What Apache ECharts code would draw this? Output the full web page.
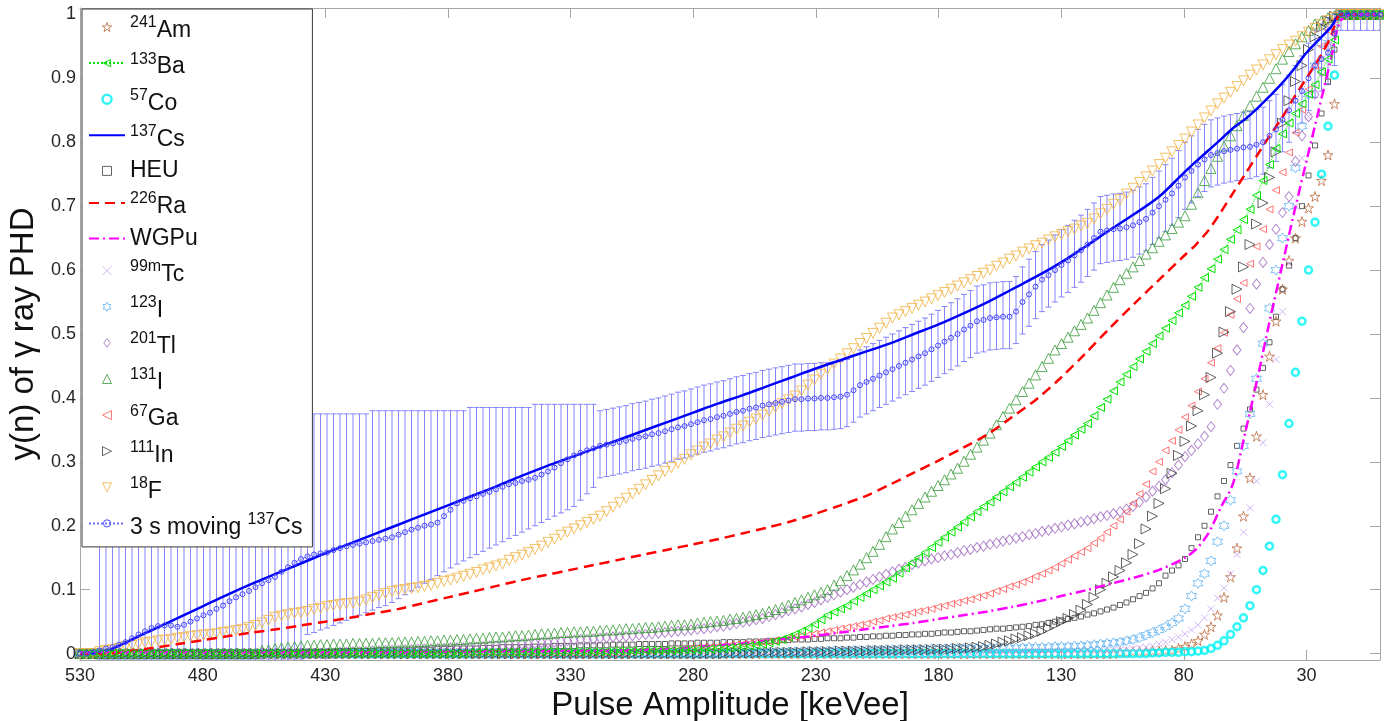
<!DOCTYPE html>
<html><head><meta charset="utf-8">
<script src="https://cdn.jsdelivr.net/npm/echarts@6/dist/echarts.min.js"></script>
<style>html,body{margin:0;padding:0;background:#fff}#c{width:1384px;height:721px}</style>
</head><body><div id="c"></div>
<script>
// ---------- axes ----------
const xTicks = [530,480,430,380,330,280,230,180,130,80,30];
const yTicks = [0,0.1,0.2,0.3,0.4,0.5,0.6,0.7,0.8,0.9,1];
// channel grid of the pulse-height histograms (keVee), 201 channels from 530 down to 0
const channelStep = 2.65;
const pulse = Array.from({length: 201}, (_, k) => +(530 - channelStep * k).toFixed(2));
// sparse x for the pure line curves
const lineX = [530,520,510,500,490,480,470,460,450,440,430,420,410,400,390,380,370,360,350,340,330,320,310,300,290,280,270,260,250,240,230,220,210,200,190,180,170,160,150,140,130,120,110,100,90,80,75,70,65,60,55,50,45,40,35,30,25,20,16,10,0];

// ---------- series values ----------
const am = [
0,0,0,0,0,0,0,0,0,0, 0,0,0,0,0,0,0,0,0,0, 0,0,0,0,0,0,0,0,0,0, 0,0,0,0,0,0,0,0,0,0,
0,0,0,0,0,0,0,0,0,0, 0,0,0,0,0,0,0,0,0,0, 0,0,0,0,0,0,0,0,0,0, 0,0,0,0,0,0,0,0,0,0,
0,0,0,0,0,0,0,0,0,0, 0,0,0,0,0,0,0,0,0,0, 0,0,0,0,0,0,0,0,0,0, 0,0,0,0,0,0,0,0,0,0,
0,0,0,0,0,0,0,0,0,0, 0,0,0,0,0,0,0,0,0,0, 0,0,0,0,0,0,0,0,0,0, 0,0,0,0,0,0,0,0,0,0,
0.002,0.002,0.003,0.003,0.003,0.004,0.004,0.005,0.005,0.008,
0.011,0.015,0.02,0.03,0.042,0.06,0.088,0.12,0.165,0.215,
0.275,0.34,0.405,0.465,0.52,0.57,0.615,0.65,0.676,0.697,
0.715,0.74,0.78,0.86,1,1,1,1,1,1, 1];
const ba = [
0,0,0,0,0,0,0,0,0,0, 0,0,0,0,0,0,0,0,0,0, 0,0,0,0,0,0,0,0,0,0, 0,0,0,0,0,0,0,0,0,0,
0,0,0,0,0,0,0,0,0,0, 0,0,0,0,0,0,0,0,0,0,
0.002,0.002,0.002,0.002,0.002,0.002,0.002,0.002,0.002,0.002,
0.003,0.003,0.003,0.003,0.003,0.003,0.003,0.003,0.003,0.003,
0.003,0.003,0.004,0.004,0.004,0.004,0.004,0.005,0.005,0.005,
0.005,0.005,0.005,0.006,0.006,0.006,0.007,0.007,0.008,0.008,
0.009,0.01,0.011,0.012,0.013,0.015,0.017,0.019,0.022,0.026,
0.03,0.035,0.04,0.046,0.053,0.06,0.065,0.07,0.075,0.082,
0.088,0.094,0.1,0.106,0.112,0.118,0.126,0.134,0.142,0.15,
0.158,0.166,0.174,0.182,0.19,0.198,0.206,0.214,0.222,0.23,
0.237,0.245,0.253,0.261,0.268,0.276,0.284,0.292,0.3,0.307,
0.315,0.324,0.333,0.342,0.351,0.36,0.372,0.385,0.398,0.411,
0.425,0.437,0.449,0.461,0.473,0.485,0.497,0.509,0.521,0.533,
0.545,0.559,0.573,0.588,0.602,0.617,0.632,0.648,0.663,0.679,
0.695,0.717,0.74,0.765,0.79,0.813,0.83,0.845,0.86,0.875,
0.89,0.91,0.93,0.96,1,1,1,1,1,1, 1];
const co = [
0,0,0,0,0,0,0,0,0,0, 0,0,0,0,0,0,0,0,0,0, 0,0,0,0,0,0,0,0,0,0, 0,0,0,0,0,0,0,0,0,0,
0,0,0,0,0,0,0,0,0,0, 0,0,0,0,0,0,0,0,0,0, 0,0,0,0,0,0,0,0,0,0, 0,0,0,0,0,0,0,0,0,0,
0,0,0,0,0,0,0,0,0,0, 0,0,0,0,0,0,0,0,0,0, 0,0,0,0,0,0,0,0,0,0, 0,0,0,0,0,0,0,0,0,0,
0,0,0,0,0,0,0,0,0,0, 0,0,0,0,0,0,0,0,0,0, 0,0,0,0,0,0,0,0,0,0, 0,0,0,0,0,0,0,0,0,0,
0,0,0,0,0,0.001,0.001,0.002,0.002,0.002,
0.003,0.003,0.004,0.005,0.008,0.013,0.02,0.03,0.042,0.056,
0.075,0.1,0.13,0.168,0.21,0.28,0.36,0.44,0.52,0.6,
0.675,0.75,0.825,0.905,1,1,1,1,1,1, 1];
const heu = [
0,0,0,0,0,0,0,0,0,0, 0,0,0,0,0,0,0,0,0,0, 0,0,0,0,0,0,0,0,0,0,
0.002,0.002,0.002,0.002,0.003,0.003,0.003,0.003,0.003,0.003,
0.004,0.004,0.004,0.004,0.004,0.004,0.005,0.005,0.005,0.005,
0.005,0.005,0.006,0.006,0.006,0.007,0.007,0.007,0.008,0.008,
0.008,0.008,0.009,0.009,0.009,0.01,0.01,0.01,0.01,0.01,
0.011,0.011,0.011,0.012,0.012,0.012,0.012,0.013,0.013,0.013,
0.013,0.013,0.014,0.014,0.014,0.014,0.015,0.015,0.015,0.015,
0.015,0.016,0.016,0.016,0.016,0.017,0.017,0.017,0.017,0.018,
0.018,0.018,0.018,0.019,0.019,0.019,0.02,0.02,0.021,0.021,
0.022,0.022,0.022,0.023,0.023,0.024,0.024,0.024,0.025,0.025,
0.026,0.026,0.027,0.027,0.028,0.028,0.029,0.029,0.03,0.03,
0.031,0.031,0.032,0.033,0.033,0.034,0.035,0.035,0.036,0.037,
0.038,0.039,0.039,0.04,0.041,0.042,0.043,0.045,0.046,0.048,
0.05,0.052,0.054,0.056,0.058,0.061,0.063,0.066,0.069,0.072,
0.076,0.08,0.085,0.09,0.095,0.102,0.11,0.122,0.13,0.138,
0.148,0.165,0.182,0.2,0.222,0.246,0.27,0.295,0.325,0.352,
0.382,0.413,0.447,0.487,0.527,0.57,0.607,0.65,0.7,0.748,
0.795,0.845,0.895,0.945,1,1,1,1,1,1, 1];
const tc = [
0,0,0,0,0,0,0,0,0,0, 0,0,0,0,0,0,0,0,0,0, 0,0,0,0,0,0,0,0,0,0, 0,0,0,0,0,0,0,0,0,0,
0,0,0,0,0,0,0,0,0,0, 0,0,0,0,0,0,0,0,0,0, 0,0,0,0,0,0,0,0,0,0, 0,0,0,0,0,0,0,0,0,0,
0,0,0,0,0,0,0,0,0,0, 0,0,0,0,0,0,0,0,0,0, 0,0,0,0,0,0,0,0,0,0, 0,0,0,0,0,0,0,0,0,0,
0,0,0,0,0,0,0,0,0,0, 0,0,0,0,0,0,0,0,0,0,
0.002,0.002,0.002,0.002,0.003,0.003,0.003,0.003,0.003,0.004,
0.004,0.004,0.004,0.004,0.005,0.005,0.005,0.005,0.005,0.006,
0.006,0.007,0.008,0.009,0.01,0.012,0.015,0.018,0.022,0.026,
0.031,0.037,0.045,0.056,0.07,0.087,0.103,0.125,0.155,0.19,
0.228,0.27,0.33,0.39,0.46,0.535,0.61,0.7,0.775,0.84,
0.89,0.93,0.96,0.985,1,1,1,1,1,1, 1];
const i123 = [
0,0,0,0,0,0,0,0,0,0, 0,0,0,0,0,0,0,0,0,0, 0,0,0,0,0,0,0,0,0,0, 0,0,0,0,0,0,0,0,0,0,
0,0,0,0,0,0,0,0,0,0, 0,0,0,0,0,0,0,0,0,0, 0,0,0,0,0,0,0,0,0,0, 0,0,0,0,0,0,0,0,0,0,
0,0,0,0,0,0,0,0,0,0, 0,0,0,0,0,0,0,0,0,0,
0.001,0.001,0.001,0.001,0.002,0.002,0.002,0.002,0.002,0.003,
0.003,0.003,0.003,0.003,0.004,0.004,0.004,0.004,0.004,0.005,
0.005,0.005,0.005,0.005,0.006,0.006,0.006,0.006,0.006,0.007,
0.007,0.007,0.007,0.007,0.008,0.008,0.008,0.008,0.008,0.008,
0.008,0.008,0.009,0.009,0.009,0.009,0.01,0.01,0.01,0.01,
0.011,0.011,0.011,0.012,0.012,0.013,0.014,0.015,0.016,0.017,
0.018,0.02,0.022,0.025,0.029,0.033,0.037,0.042,0.048,0.055,
0.07,0.09,0.11,0.125,0.145,0.175,0.2,0.24,0.285,0.325,
0.375,0.43,0.485,0.54,0.6,0.65,0.7,0.76,0.825,0.875,
0.92,0.955,0.98,0.995,1,1,1,1,1,1, 1];
const tl = [
0,0,0,0,0,0,0,0,0,0, 0,0,0,0,0,0,0,0,0,0, 0,0,0,0,0,0,0,0,0,0, 0,0,0,0,0,0,0,0,0,0,
0.002,0.002,0.003,0.003,0.003,0.004,0.004,0.005,0.005,0.005,
0.006,0.006,0.007,0.007,0.007,0.008,0.008,0.009,0.009,0.009,
0.01,0.01,0.011,0.012,0.012,0.013,0.014,0.014,0.015,0.015,
0.016,0.017,0.017,0.018,0.019,0.02,0.021,0.022,0.022,0.023,
0.024,0.025,0.026,0.026,0.027,0.028,0.029,0.03,0.031,0.032,
0.033,0.034,0.035,0.036,0.037,0.038,0.039,0.04,0.042,0.043,
0.045,0.047,0.049,0.051,0.053,0.055,0.058,0.061,0.064,0.067,
0.07,0.073,0.077,0.08,0.084,0.088,0.092,0.096,0.1,0.104,
0.108,0.112,0.116,0.12,0.124,0.128,0.132,0.135,0.139,0.142,
0.145,0.148,0.15,0.153,0.155,0.158,0.161,0.163,0.166,0.168,
0.171,0.173,0.176,0.178,0.181,0.183,0.186,0.188,0.191,0.193,
0.196,0.198,0.201,0.203,0.206,0.208,0.211,0.214,0.216,0.219,
0.222,0.226,0.23,0.237,0.245,0.254,0.262,0.272,0.283,0.295,
0.308,0.318,0.328,0.34,0.355,0.39,0.415,0.443,0.475,0.51,
0.54,0.578,0.612,0.64,0.664,0.69,0.715,0.77,0.81,0.84,
0.875,0.91,0.95,0.98,1,1,1,1,1,1, 1];
const i131 = [
0,0,0,0,0,0,0,0,0,0, 0,0,0,0,0,0,0,0,0,0,
0,0,0,0,0,0,0,0,0.005,0.006,
0.008,0.009,0.01,0.011,0.012,0.013,0.013,0.014,0.014,0.015,
0.015,0.015,0.016,0.016,0.016,0.016,0.017,0.017,0.017,0.018,
0.018,0.018,0.019,0.019,0.02,0.02,0.021,0.021,0.022,0.022,
0.023,0.024,0.024,0.025,0.026,0.026,0.027,0.028,0.028,0.029,
0.03,0.031,0.031,0.032,0.033,0.033,0.034,0.034,0.035,0.035,
0.036,0.037,0.037,0.038,0.039,0.039,0.04,0.041,0.041,0.042,
0.043,0.044,0.045,0.045,0.046,0.048,0.049,0.05,0.051,0.052,
0.054,0.055,0.057,0.059,0.061,0.063,0.066,0.069,0.072,0.076,
0.08,0.084,0.088,0.092,0.096,0.1,0.107,0.114,0.122,0.131,
0.14,0.15,0.16,0.171,0.183,0.195,0.205,0.215,0.225,0.235,
0.245,0.254,0.263,0.272,0.281,0.29,0.301,0.312,0.323,0.334,
0.345,0.358,0.371,0.384,0.397,0.41,0.423,0.436,0.449,0.462,
0.475,0.485,0.495,0.505,0.515,0.525,0.537,0.549,0.561,0.573,
0.585,0.595,0.605,0.615,0.625,0.635,0.645,0.655,0.665,0.675,
0.685,0.703,0.721,0.74,0.759,0.778,0.794,0.81,0.826,0.842,
0.857,0.872,0.886,0.9,0.915,0.93,0.942,0.954,0.965,0.975,
0.985,0.99,0.995,0.998,1,1,1,1,1,1, 1];
const ga = [
0,0,0,0,0,0,0,0,0,0, 0,0,0,0,0,0,0,0,0,0, 0,0,0,0,0,0,0,0,0,0, 0,0,0,0,0,0,0,0,0,0,
0,0,0,0,0,0,0,0,0,0, 0,0,0,0,0,0,0,0,0,0, 0,0,0,0,0,0,0,0,0,0, 0,0,0,0,0,0,0,0,0,0,
0,0,0,0,0,0.003,0.003,0.004,0.004,0.005,
0.005,0.006,0.006,0.007,0.008,0.009,0.01,0.01,0.011,0.012,
0.013,0.014,0.015,0.016,0.017,0.018,0.019,0.021,0.022,0.024,
0.026,0.028,0.029,0.031,0.033,0.035,0.037,0.039,0.041,0.043,
0.045,0.047,0.05,0.052,0.055,0.057,0.059,0.061,0.064,0.066,
0.068,0.07,0.073,0.075,0.078,0.08,0.083,0.085,0.088,0.091,
0.094,0.098,0.101,0.105,0.108,0.112,0.116,0.121,0.125,0.13,
0.135,0.141,0.147,0.153,0.159,0.165,0.173,0.181,0.19,0.2,
0.21,0.222,0.235,0.25,0.265,0.285,0.3,0.318,0.333,0.35,
0.37,0.388,0.41,0.43,0.455,0.478,0.502,0.53,0.555,0.58,
0.61,0.637,0.664,0.695,0.725,0.753,0.784,0.815,0.851,0.883,
0.919,0.95,0.975,0.992,1,1,1,1,1,1, 1];
const inn = [
0,0,0,0,0,0,0,0,0,0, 0,0,0,0,0,0,0,0,0,0, 0,0,0,0,0,0,0,0,0,0, 0,0,0,0,0,0,0,0,0,0,
0,0,0,0,0,0,0,0,0,0, 0,0,0,0,0,0,0,0,0,0, 0,0,0,0,0,0,0,0,0,0, 0,0,0,0,0,0,0,0,0,0,
0,0,0,0,0,0,0,0,0,0, 0,0,0,0,0,0,0,0,0,0,
0.001,0.001,0.001,0.001,0.001,0.002,0.002,0.002,0.002,0.002,
0.002,0.002,0.003,0.003,0.003,0.003,0.003,0.004,0.004,0.004,
0.004,0.004,0.005,0.005,0.005,0.005,0.005,0.006,0.006,0.006,
0.006,0.006,0.007,0.007,0.007,0.008,0.008,0.009,0.01,0.011,
0.013,0.015,0.018,0.02,0.023,0.025,0.028,0.031,0.035,0.04,
0.045,0.05,0.055,0.061,0.068,0.077,0.088,0.1,0.11,0.12,
0.13,0.142,0.155,0.172,0.195,0.215,0.235,0.258,0.282,0.31,
0.332,0.356,0.38,0.405,0.432,0.47,0.503,0.535,0.57,0.605,
0.64,0.672,0.705,0.745,0.785,0.83,0.865,0.895,0.92,0.945,
0.965,0.98,0.99,0.997,1,1,1,1,1,1, 1];
const f18 = [
0,0,0,0.003,0.005,0.006,0.008,0.011,0.013,0.015,
0.017,0.018,0.02,0.021,0.022,0.024,0.025,0.027,0.028,0.029,
0.03,0.031,0.033,0.034,0.036,0.038,0.041,0.044,0.048,0.052,
0.057,0.059,0.061,0.063,0.064,0.066,0.069,0.071,0.074,0.075,
0.077,0.078,0.079,0.081,0.084,0.088,0.091,0.094,0.097,0.099,
0.1,0.102,0.103,0.105,0.107,0.11,0.113,0.115,0.118,0.121,
0.124,0.127,0.131,0.134,0.137,0.14,0.146,0.15,0.154,0.158,
0.163,0.168,0.174,0.179,0.185,0.19,0.195,0.2,0.205,0.21,
0.215,0.222,0.229,0.236,0.243,0.25,0.257,0.264,0.271,0.278,
0.285,0.291,0.298,0.304,0.311,0.317,0.323,0.328,0.334,0.339,
0.345,0.351,0.356,0.362,0.367,0.373,0.379,0.385,0.391,0.397,
0.403,0.411,0.42,0.428,0.437,0.445,0.453,0.461,0.469,0.477,
0.485,0.493,0.501,0.509,0.517,0.525,0.53,0.535,0.54,0.545,
0.55,0.555,0.56,0.565,0.57,0.575,0.58,0.585,0.59,0.595,
0.6,0.606,0.611,0.617,0.622,0.628,0.633,0.638,0.642,0.647,
0.652,0.656,0.66,0.664,0.669,0.673,0.68,0.688,0.695,0.703,
0.71,0.719,0.728,0.737,0.746,0.755,0.765,0.775,0.785,0.795,
0.805,0.816,0.827,0.838,0.849,0.86,0.869,0.878,0.887,0.896,
0.905,0.913,0.921,0.929,0.937,0.945,0.952,0.958,0.965,0.972,
0.978,0.984,0.99,0.995,1,1,1,1,1,1, 1];
const mv = [
0,0,0.002,0.005,0.008,0.01,0.014,0.018,0.024,0.03,
0.035,0.04,0.043,0.044,0.044,0.042,0.045,0.05,0.055,0.06,
0.064,0.07,0.075,0.082,0.088,0.093,0.098,0.104,0.11,0.115,
0.12,0.128,0.135,0.142,0.148,0.152,0.155,0.157,0.158,0.162,
0.165,0.168,0.17,0.172,0.174,0.176,0.178,0.18,0.182,0.186,
0.19,0.194,0.197,0.2,0.202,0.205,0.215,0.225,0.235,0.239,
0.243,0.246,0.25,0.253,0.257,0.261,0.265,0.267,0.27,0.272,
0.275,0.28,0.285,0.291,0.298,0.304,0.31,0.314,0.318,0.321,
0.325,0.327,0.329,0.331,0.333,0.336,0.338,0.34,0.343,0.345,
0.348,0.351,0.354,0.356,0.359,0.362,0.365,0.367,0.37,0.372,
0.375,0.378,0.38,0.383,0.385,0.388,0.39,0.392,0.394,0.396,
0.398,0.398,0.399,0.399,0.4,0.4,0.401,0.402,0.405,0.412,
0.42,0.425,0.43,0.435,0.44,0.445,0.45,0.455,0.46,0.465,
0.47,0.476,0.482,0.488,0.494,0.5,0.507,0.513,0.52,0.522,
0.525,0.526,0.527,0.527,0.535,0.55,0.562,0.574,0.585,0.592,
0.6,0.608,0.615,0.623,0.631,0.64,0.65,0.66,0.662,0.664,
0.665,0.667,0.67,0.675,0.68,0.69,0.7,0.71,0.72,0.732,
0.745,0.755,0.765,0.773,0.78,0.783,0.786,0.788,0.79,0.792,
0.793,0.796,0.8,0.81,0.82,0.835,0.85,0.865,0.88,0.9,
0.92,0.93,0.94,0.97,1,1,1,1,1,1, 1];
const mvHigh = [
0,0,0,0.45,0.45,0.45,0.45,0.45,0.45,0.45, 0.45,0.45,0.45,0.45,0.45,0.45,0.45,0.45,0.45,0.45,
0.45,0.45,0.45,0.45,0.45,0.45,0.45,0.45,0.45,0.45, 0.45,0.45,0.45,0.45,0.45,
0.375,0.375,0.375,0.375,0.375,0.375,0.375,0.375,0.375,0.375,
0.38,0.38,0.38,0.38,0.38,0.38,0.38,0.38,0.38,0.38,0.38,0.38,0.38,0.38,0.38,
0.385,0.385,0.385,0.385,0.385,0.385,0.385,0.385,0.385,0.385,
0.39,0.39,0.39,0.39,0.39,0.39,0.39,0.39,0.39,0.39,
0.38,0.382,0.384,0.386,0.388,0.391,0.393,0.395,0.398,0.4,
0.403,0.406,0.409,0.411,0.414,0.417,0.42,0.422,0.425,0.427,
0.43,0.433,0.435,0.438,0.44,0.443,0.445,0.447,0.449,0.451,
0.453,0.453,0.454,0.454,0.455,0.455,0.456,0.457,0.46,0.467,
0.475,0.48,0.485,0.49,0.495,0.5,0.505,0.51,0.515,0.52,
0.525,0.531,0.537,0.543,0.549,0.555,0.562,0.568,0.575,0.577,
0.58,0.581,0.582,0.582,0.59,0.605,0.617,0.629,0.64,0.647,
0.655,0.663,0.67,0.678,0.686,0.695,0.705,0.715,0.717,0.719,
0.72,0.722,0.725,0.73,0.735,0.745,0.755,0.765,0.775,0.787,
0.8,0.81,0.82,0.828,0.835,0.838,0.841,0.843,0.845,0.847,
0.848,0.851,0.855,0.865,0.875,0.89,0.905,0.92,0.935,0.955,
0.975,0.985,0.995,1,1,1,1,1,1,1, 1];
const mvLow = [
0,0,0,-0.01,-0.01,-0.01,-0.01,-0.01,-0.01,-0.01, -0.01,-0.01,-0.01,-0.01,-0.01,-0.01,-0.01,-0.01,-0.01,-0.01,
-0.01,-0.01,-0.01,-0.01,-0.01,-0.01,-0.01,-0.01,-0.01,-0.01, -0.01,-0.01,-0.01,-0.01,-0.01,
0.03,0.033,0.037,0.04,0.044,0.048,0.052,0.056,0.06,0.064,0.068,0.072,0.075,
0.08,0.086,0.092,0.098,0.104,0.11,0.116,0.122,0.128,0.134,0.14,0.145,0.15,
0.155,0.16,0.165,0.17,0.175,0.18,0.185,0.19,0.195,0.2,0.205,0.21,0.215,0.22,0.225,0.23,0.24,0.25,0.26,
0.275,0.277,0.279,0.281,0.283,0.286,0.288,0.29,0.293,0.295,
0.298,0.301,0.304,0.306,0.309,0.312,0.315,0.317,0.32,0.322,
0.325,0.328,0.33,0.333,0.335,0.338,0.34,0.342,0.344,0.346,
0.348,0.348,0.349,0.349,0.35,0.35,0.351,0.352,0.355,0.362,
0.37,0.375,0.38,0.385,0.39,0.395,0.4,0.405,0.41,0.415,
0.42,0.426,0.432,0.438,0.444,0.45,0.457,0.463,0.47,0.472,
0.475,0.476,0.477,0.477,0.485,0.5,0.512,0.524,0.535,0.542,
0.55,0.558,0.565,0.573,0.581,0.59,0.6,0.61,0.612,0.614,
0.615,0.617,0.62,0.625,0.63,0.64,0.65,0.66,0.67,0.682,
0.695,0.705,0.715,0.723,0.73,0.733,0.736,0.738,0.74,0.742,
0.743,0.746,0.75,0.76,0.77,0.785,0.8,0.815,0.83,0.85,
0.87,0.88,0.89,0.92,0.975,0.975,0.975,0.975,0.975,0.975, 0.975];
const cs = [0,0.003,0.02,0.038,0.056,0.074,0.092,0.109,0.125,0.141,0.157,0.172,0.187,0.202,0.217,0.232,0.247,0.262,0.278,0.293,0.307,0.321,0.335,0.349,0.363,0.377,0.391,0.404,0.418,0.432,0.446,0.459,0.472,0.485,0.5,0.515,0.532,0.55,0.57,0.59,0.612,0.637,0.663,0.688,0.715,0.752,0.77,0.787,0.804,0.822,0.836,0.853,0.872,0.892,0.915,0.94,0.96,0.98,1,1,1];
const ra = [0,0,0.004,0.009,0.015,0.021,0.027,0.033,0.038,0.044,0.05,0.056,0.063,0.07,0.079,0.088,0.097,0.106,0.115,0.123,0.131,0.139,0.147,0.155,0.163,0.171,0.179,0.188,0.197,0.207,0.219,0.232,0.246,0.264,0.283,0.302,0.322,0.343,0.37,0.398,0.432,0.47,0.51,0.548,0.585,0.622,0.64,0.662,0.69,0.72,0.75,0.78,0.81,0.838,0.87,0.9,0.93,0.965,1,1,1];
const wg = [0.002,0.002,0.002,0.002,0.002,0.002,0.002,0.002,0.002,0.002,0.002,0.002,0.002,0.002,0.003,0.003,0.003,0.004,0.004,0.004,0.005,0.005,0.005,0.006,0.008,0.01,0.013,0.016,0.02,0.024,0.028,0.033,0.038,0.043,0.048,0.054,0.06,0.066,0.073,0.081,0.09,0.099,0.109,0.119,0.131,0.149,0.163,0.188,0.228,0.265,0.345,0.43,0.52,0.605,0.69,0.77,0.85,0.93,0.99,1,1];

// ---------- styling ----------
const FONT = '"Liberation Sans", Arial, Helvetica, sans-serif';
const GRAY = '#a6a6a6';
const HOLLOW = 'rgba(0,0,0,0)';
const SYM = {
  star: 'path://M50,0 L61.23,34.55 L97.55,34.55 L68.17,55.9 L79.39,90.45 L50,69.1 L20.61,90.45 L31.83,55.9 L2.45,34.55 L38.77,34.55 Z',
  hex: 'path://M50,0 L64.4,25 L93.3,25 L78.9,50 L93.3,75 L64.4,75 L50,100 L35.6,75 L6.7,75 L21.1,50 L6.7,25 L35.6,25 Z',
  up: 'path://M50,0 L100,100 L0,100 Z',
  down: 'path://M0,0 L100,0 L50,100 Z',
  left: 'path://M0,50 L100,0 L100,100 Z',
  right: 'path://M0,0 L100,50 L0,100 Z',
  cross: 'path://M0,0 L100,100 M100,0 L0,100',
  square: 'path://M0,0 L100,0 L100,100 L0,100 Z',
  diamond: 'path://M35,0 L70,50 L35,100 L0,50 Z'
};
const pts = vals => vals.map((v, i) => [pulse[i], v]);
const linePts = vals => vals.map((v, i) => [lineX[i], v]);
const legendStyle = {};
function markers(name, vals, symbol, size, color, bw) {
  legendStyle[name] = { color: HOLLOW, borderColor: color, borderWidth: bw || 1 };
  return { type: 'scatter', name, data: pts(vals), symbol, symbolSize: size, silent: true,
    itemStyle: { color: HOLLOW, borderColor: color, borderWidth: bw || 1 } };
}
function curve(name, vals, color, type) {
  legendStyle[name] = { opacity: 0 };
  return { type: 'line', name, data: linePts(vals), symbol: 'none', smooth: 0.3, silent: true,
    lineStyle: { color, width: 2.5, type }, itemStyle: { color } };
}

const legendLabels = {
  '241Am': '{s|241}{m|Am}', '133Ba': '{s|133}{m|Ba}', '57Co': '{s|57}{m|Co}', '137Cs': '{s|137}{m|Cs}',
  'HEU': '{p|HEU}', '226Ra': '{s|226}{m|Ra}', 'WGPu': '{p|WGPu}', '99mTc': '{s|99m}{m|Tc}',
  '123I': '{s|123}{m|I}', '201Tl': '{s|201}{m|Tl}', '131I': '{s|131}{m|I}', '67Ga': '{s|67}{m|Ga}',
  '111In': '{s|111}{m|In}', '18F': '{s|18}{m|F}', '3 s moving 137Cs': '{m|3 s moving }{s|137}{m|Cs}'
};
const legendOrder = Object.keys(legendLabels);

const series = [
  markers('241Am', am, SYM.star, 10, '#bb6c40'),
  { type: 'line', name: '133Ba', data: pts(ba), symbol: SYM.left, symbolSize: 8, showAllSymbol: true, silent: true,
    lineStyle: { color: '#00e400', width: 1, type: 'dotted' },
    itemStyle: { color: HOLLOW, borderColor: '#00e400', borderWidth: 1 } },
  markers('57Co', co, 'circle', 7, '#00f2f2', 2.5),
  curve('137Cs', cs, '#0000ff', 'solid'),
  markers('HEU', heu, SYM.square, 5, '#3c3c3c'),
  curve('226Ra', ra, '#ff0000', [10, 6]),
  curve('WGPu', wg, '#ff00ff', [10, 4, 2, 4]),
  markers('99mTc', tc, SYM.cross, 7, '#c4a4f4'),
  markers('123I', i123, SYM.hex, 10, '#5eb2f2'),
  markers('201Tl', tl, SYM.diamond, [8, 10], '#a06cc0'),
  markers('131I', i131, SYM.up, 10, '#379a37'),
  markers('67Ga', ga, SYM.left, 7, '#ff5555'),
  markers('111In', inn, SYM.right, 10, '#3a3a3a'),
  markers('18F', f18, SYM.down, 10, '#f0b040'),
  { type: 'custom', name: 'errorbars', silent: true, clip: true,
    data: pulse.map((x, i) => [x, mvLow[i], mvHigh[i]]),
    encode: { x: 0, y: [1, 2] },
    renderItem: (params, api) => {
      const x = api.value(0);
      const lo = api.coord([x, api.value(1)]);
      const hi = api.coord([x, api.value(2)]);
      const w = 3, style = { stroke: '#8585ff', lineWidth: 1 };
      return { type: 'group', children: [
        { type: 'line', shape: { x1: lo[0], y1: lo[1], x2: hi[0], y2: hi[1] }, style },
        { type: 'line', shape: { x1: lo[0] - w, y1: lo[1], x2: lo[0] + w, y2: lo[1] }, style },
        { type: 'line', shape: { x1: hi[0] - w, y1: hi[1], x2: hi[0] + w, y2: hi[1] }, style }
      ]};
    } },
  { type: 'line', name: '3 s moving 137Cs', data: pts(mv), symbol: 'circle', symbolSize: 5, showAllSymbol: true, silent: true,
    lineStyle: { color: '#6c6cff', width: 1, type: 'dotted' },
    itemStyle: { color: HOLLOW, borderColor: '#4848ff', borderWidth: 1 } }
];
legendStyle['133Ba'] = { color: HOLLOW, borderColor: '#00e400', borderWidth: 1 };
legendStyle['3 s moving 137Cs'] = { color: HOLLOW, borderColor: '#4848ff', borderWidth: 1 };

const axisCommon = {
  type: 'value', splitLine: { show: false },
  axisLine: { show: true, onZero: false, lineStyle: { color: GRAY, width: 1 } }
};
const option = {
  animation: false,
  backgroundColor: '#fff',
  grid: { left: 80, right: 4, top: 8, bottom: 61, outerBoundsMode: 'none' },
  xAxis: [
    Object.assign({}, axisCommon, {
      position: 'bottom', min: 0, max: 530, inverse: true,
      axisTick: { show: true, inside: true, length: 10, customValues: xTicks, lineStyle: { color: GRAY } },
      axisLabel: { customValues: xTicks, margin: 7, fontSize: 18, color: '#262626', fontFamily: FONT },
      name: 'Pulse Amplitude [keVee]', nameLocation: 'middle', nameGap: 24,
      nameTextStyle: { fontSize: 33, color: '#111', fontFamily: FONT }
    }),
    Object.assign({}, axisCommon, {
      position: 'top', min: 0, max: 530, inverse: true,
      axisTick: { show: true, inside: true, length: 10, customValues: xTicks, lineStyle: { color: GRAY } },
      axisLabel: { show: false }
    })
  ],
  yAxis: [
    Object.assign({}, axisCommon, {
      position: 'left', min: -0.01, max: 1.01,
      axisTick: { show: true, inside: true, length: 10, customValues: yTicks, lineStyle: { color: GRAY } },
      axisLabel: { customValues: yTicks, margin: 4, fontSize: 18, color: '#262626', fontFamily: FONT,
        formatter: v => String(Math.round(v * 10) / 10) },
      name: 'y(n) of \u03b3 ray PHD', nameLocation: 'middle', nameGap: 34,
      nameTextStyle: { fontSize: 33, color: '#111', fontFamily: FONT }
    }),
    Object.assign({}, axisCommon, {
      position: 'right', min: -0.01, max: 1.01,
      axisTick: { show: true, inside: true, length: 10, customValues: yTicks, lineStyle: { color: GRAY } },
      axisLabel: { show: false }
    })
  ],
  legend: {
    orient: 'vertical', left: 82, top: 9, padding: [6, 10, 8, 6],
    itemWidth: 36, itemHeight: 9, itemGap: 8.6, selectedMode: false,
    backgroundColor: '#fff', borderColor: '#3a3a3a', borderWidth: 1, borderRadius: 0,
    formatter: name => legendLabels[name],
    textStyle: { color: '#111', fontFamily: FONT, fontSize: 23,
      rich: {
        m: { fontSize: 23, fontFamily: FONT, color: '#111', padding: [8, 0, 0, 0] },
        s: { fontSize: 16, fontFamily: FONT, color: '#111', padding: [0, 0, 8, 0] },
        p: { fontSize: 23, fontFamily: FONT, color: '#111', padding: [4, 0, 4, 0] }
      } },
    data: legendOrder.map(n => ({ name: n, itemStyle: legendStyle[n] }))
  },
  series
};
const chart = echarts.init(document.getElementById('c'), null, { renderer: 'canvas' });
chart.setOption(option);
</script></body></html>
